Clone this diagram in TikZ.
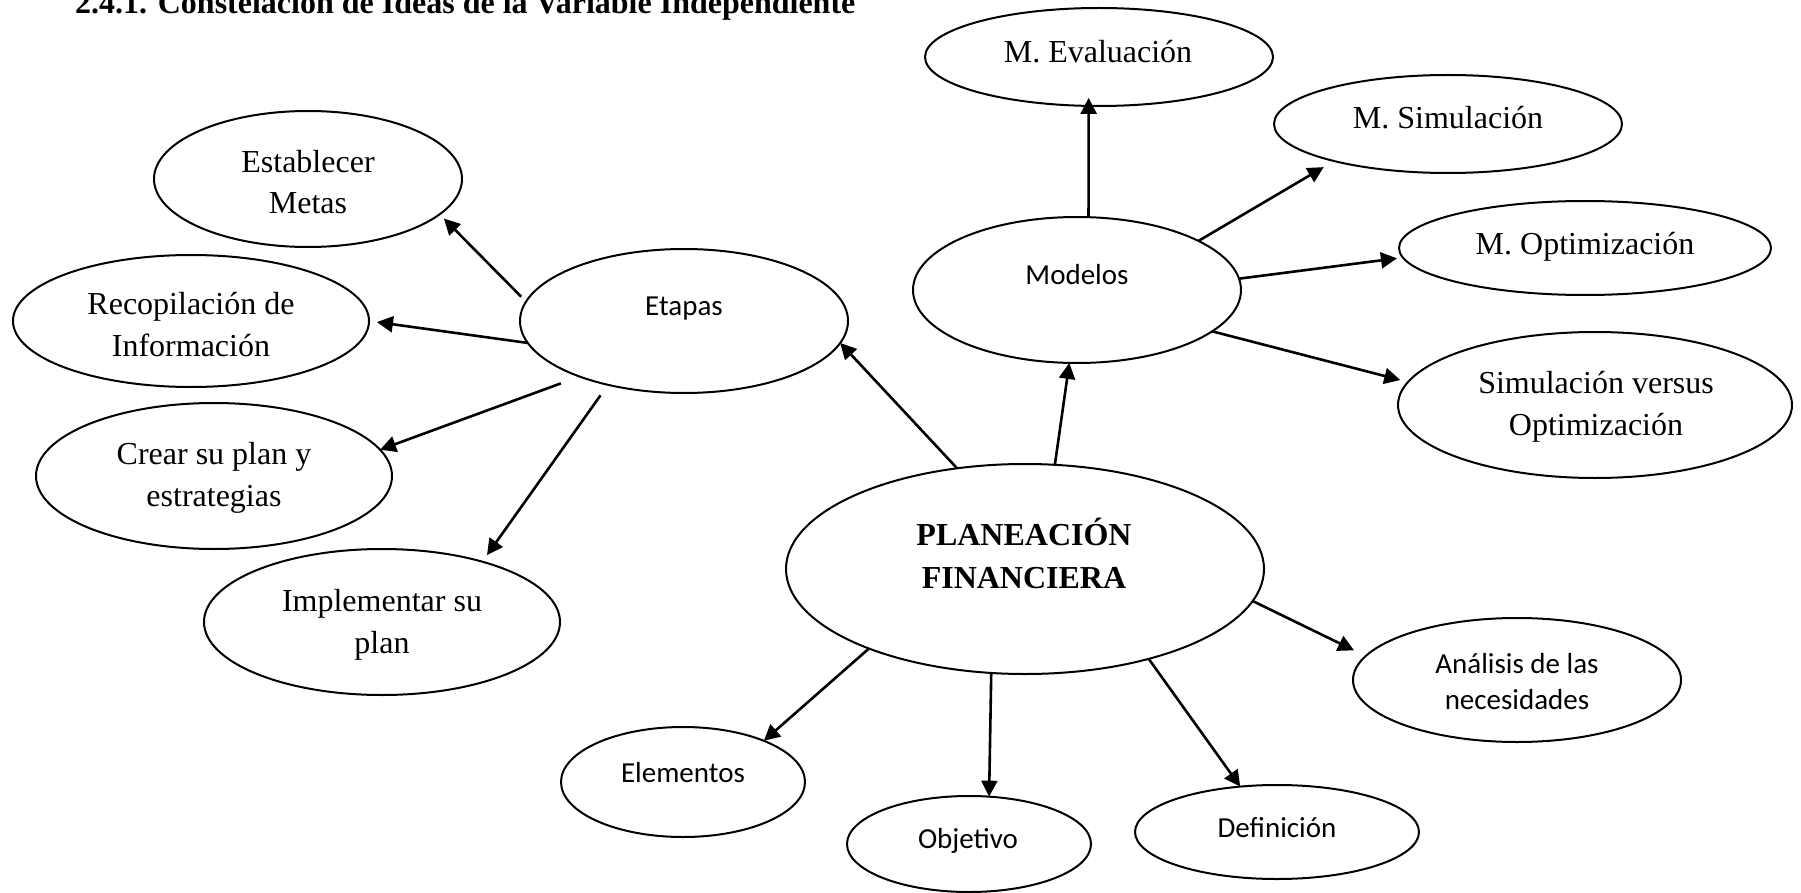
\documentclass[tikz,border=0pt]{standalone}
\usepackage{fontspec}
\setmainfont{Liberation Serif}
\newfontfamily\calibrifont{Carlito}
\usetikzlibrary{shapes.geometric,arrows.meta}
\begin{document}
\begin{tikzpicture}[x=1pt,y=-1pt,
  oval/.style={ellipse,draw,line width=2pt,inner sep=0pt,outer sep=0pt},
  serif/.style={inner sep=0pt,anchor=base,align=center,font=\fontsize{32}{41.5}\selectfont},
  sans/.style={inner sep=0pt,anchor=base,align=center,font=\calibrifont\fontsize{29}{36}\selectfont},
  link/.style={line width=2.6pt,-{Triangle[length=16pt,width=16pt]}}]
\useasboundingbox (0,0) rectangle (1801,893);

% heading
\node[inner sep=0pt,anchor=base west,font=\fontsize{32}{38}\selectfont\bfseries] (title) at (75,14)
  {2.4.1. Constelación de Ideas de la Variable Independiente};

% ellipses
\node[oval,minimum width=478pt,minimum height=210pt] (plan) at (1025,569) {};
\node[oval,minimum width=328pt,minimum height=144pt] (etapas) at (684,321) {};
\node[oval,minimum width=328pt,minimum height=146pt] (modelos) at (1077,290) {};
\node[oval,minimum width=348pt,minimum height=98pt] (eval) at (1099,57) {};
\node[oval,minimum width=348pt,minimum height=98pt] (sim) at (1448,124) {};
\node[oval,minimum width=372pt,minimum height=94pt] (opt) at (1585,248) {};
\node[oval,minimum width=394pt,minimum height=146pt] (svo) at (1595,405) {};
\node[oval,minimum width=308pt,minimum height=136pt] (metas) at (308,179) {};
\node[oval,minimum width=356pt,minimum height=132pt] (recop) at (191,321) {};
\node[oval,minimum width=356pt,minimum height=146pt] (crear) at (214,476) {};
\node[oval,minimum width=356pt,minimum height=146pt] (impl) at (382,622) {};
\node[oval,minimum width=328pt,minimum height=124pt] (analisis) at (1517,680) {};
\node[oval,minimum width=244pt,minimum height=110pt] (elem) at (683,782) {};
\node[oval,minimum width=244pt,minimum height=96pt] (obj) at (969,844) {};
\node[oval,minimum width=284pt,minimum height=94pt] (defi) at (1277,832) {};

% labels (multi-line labels are placed by the baseline of their last line)
\node[serif,font=\fontsize{32}{43}\selectfont\bfseries] (planT) at (1024,588) {PLANEACIÓN\\FINANCIERA};
\node[sans] (etapasT) at (684,315) {Etapas};
\node[sans] (modelosT) at (1077,284) {Modelos};
\node[serif] (evalT) at (1098,63) {M. Evaluación};
\node[serif] (simT) at (1448,129) {M. Simulación};
\node[serif] (optT) at (1585,255) {M. Optimización};
\node[serif] (svoT) at (1596,435) {Simulación versus\\Optimización};
\node[serif] (metasT) at (308,214) {Establecer\\Metas};
\node[serif] (recopT) at (191,356) {Recopilación de\\Información};
\node[serif] (crearT) at (214,506) {Crear su plan y\\estrategias};
\node[serif] (implT) at (382,653) {Implementar su\\plan};
\node[sans] (analisisT) at (1517,709) {Análisis de las\\necesidades};
\node[sans] (elemT) at (683,782) {Elementos};
\node[sans] (objT) at (968,848) {Objetivo};
\node[sans] (defiT) at (1277,837) {Definición};

% connectors from the central idea
\draw[link] (plan.124.7) -- (etapas.-8.85);
\draw[link] (plan.74.4) -- (modelos.-96.1);
\draw[link,shorten >=13pt] (plan.-8.5) -- (analisis.171.3);
\draw[link] (plan.-153) -- (elem.27.1);
\draw[link] (plan.-108.8) -- (obj.67.8);
\draw[link] (plan.-36.1) -- (defi.129.4);

% connectors from Modelos
\draw[link,shorten >=-8pt] (modelos.81.4) -- (eval.-102.9);
\draw[link,shorten >=12pt] (modelos.22.6) -- (sim.-162.3);
\draw[link,shorten >=6pt] (modelos.4.85) -- (opt.-177.1);
\draw[link,shorten >=8pt] (modelos.-17) -- (svo.173.6);

% connectors from Etapas
\draw[link,shorten <=7pt,shorten >=6pt] (etapas.173.4) -- (metas.-15.1);
\draw[link,shorten >=8pt] (etapas.-172) -- (recop.-0.3);
\draw[link,shorten <=20pt] (etapas.-152.1) -- (crear.9.06);
\draw[link,shorten <=13pt,shorten >=8pt] (etapas.-140.7) -- (impl.31.3);
\end{tikzpicture}
\end{document}
